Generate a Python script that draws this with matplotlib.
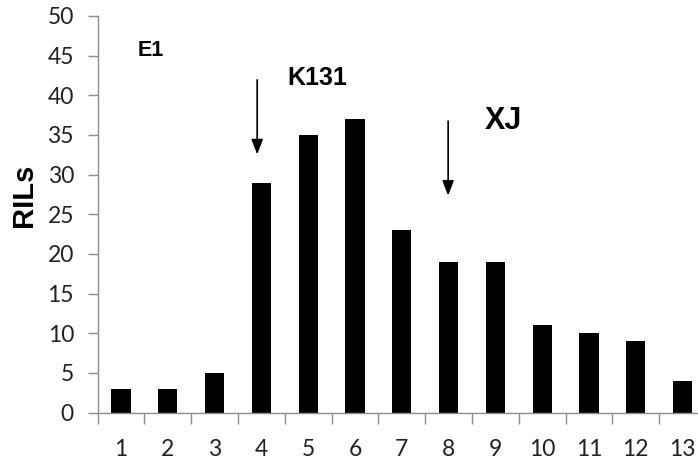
import matplotlib
matplotlib.use("Agg")
from matplotlib import pyplot as plt

categories = [1, 2, 3, 4, 5, 6, 7, 8, 9, 10, 11, 12, 13]
rils = [3, 3, 5, 29, 35, 37, 23, 19, 19, 11, 10, 9, 4]
y_ticks = [0, 5, 10, 15, 20, 25, 30, 35, 40, 45, 50]

fig = plt.figure(figsize=(6.98, 4.62), dpi=100)
# axes run off the right edge, like the original screenshot
ax = fig.add_axes([97.6 / 698, 1 - 412.5 / 462, (706 - 97.6) / 698, 396.5 / 462])

ax.bar(categories, rils, width=0.41, color="black", zorder=2)

ax.set_xlim(0.5, 13.5)
ax.set_ylim(0, 50)
ax.set_yticks(y_ticks)
ax.set_xticks(categories)
ax.set_xticks([c + 0.5 for c in [0] + categories[:-1]], minor=True)

for side in ["top", "right"]:
    ax.spines[side].set_visible(False)
for side in ["left", "bottom"]:
    ax.spines[side].set_color("#8c8c8c")
    ax.spines[side].set_linewidth(1.0)

ax.tick_params(axis="y", length=7, width=1, color="#8c8c8c", pad=10,
               labelsize=16.5, labelcolor="#222222")
ax.tick_params(axis="x", which="major", length=0, pad=19,
               labelsize=16.5, labelcolor="#222222")
ax.tick_params(axis="x", which="minor", length=8, width=1, color="#8c8c8c")
for lab in ax.get_xticklabels() + ax.get_yticklabels():
    lab.set_fontfamily("Lato")

ax.set_ylabel("RILs", fontsize=21, fontweight="bold", family="Liberation Sans",
              va="center")
ax.yaxis.set_label_coords(-0.121, 0.549)

ax.text(1.64, 45.6, "E1", fontsize=15.5, fontweight="bold", family="Liberation Sans",
        ha="center", va="center")
ax.text(5.19, 42.2, "K131", fontsize=18, fontweight="bold", family="Liberation Sans",
        ha="center", va="center")
ax.text(9.17, 36.7, "XJ", fontsize=22, fontweight="bold", family="Liberation Sans",
        ha="center", va="center")

arrow = dict(arrowstyle="-|>,head_length=0.9,head_width=0.35", color="black", lw=1.2)
ax.annotate("", xy=(3.91, 32.2), xytext=(3.91, 42.3), arrowprops=arrow)
ax.annotate("", xy=(7.99, 27.0), xytext=(7.99, 37.1), arrowprops=arrow)

fig.savefig("out.png", dpi=100)
